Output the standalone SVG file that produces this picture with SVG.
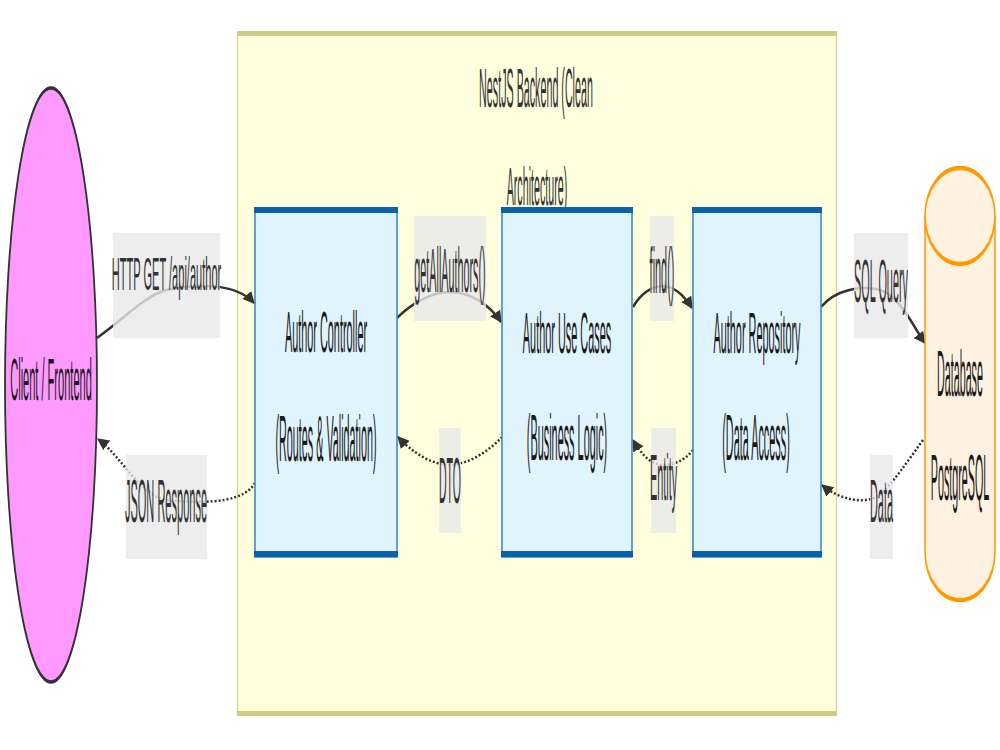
<svg xmlns="http://www.w3.org/2000/svg" width="1000" height="750" viewBox="0 0 1000 750">
<style>
.t{font-family:"Liberation Sans",Arial,sans-serif;font-size:16px;fill:#333;text-anchor:middle}
.n{fill:#1a1a1a}
.lbl{fill:#e8e8e8;fill-opacity:0.8}
.solid{fill:none;stroke:#333;stroke-width:2.5}
.dot{fill:none;stroke:#333;stroke-width:2.5;stroke-dasharray:2 2}
.box{fill:#e0f4fe;stroke:#3a8dcb;stroke-width:1.6}
.bar{fill:#0b62ab}
</style>
<defs>
<marker id="arr" viewBox="0 0 10 10" refX="9" refY="5" markerWidth="12" markerHeight="12" markerUnits="userSpaceOnUse" orient="auto">
<path d="M0,0 L10,5 L0,10 z" fill="#333"/>
</marker>
</defs>
<rect width="1000" height="750" fill="#ffffff"/>

<g id="backend">
<rect x="237.5" y="33" width="599" height="682" fill="#ffffde" stroke="#d2d28e" stroke-width="1.2"/>
<rect x="237" y="31" width="600" height="5" fill="#cdcd86"/>
<rect x="237" y="711" width="600" height="5" fill="#cdcd86"/>
<text class="t" transform="translate(536,107) scale(0.67,3.49)">NestJS Backend (Clean</text>
<text class="t" transform="translate(537,205) scale(0.67,3.32)">Architecture)</text>
</g>

<g id="client">
<g transform="scale(1,2)">
<ellipse cx="51" cy="192.5" rx="46" ry="148.5" fill="#ff99ff" stroke="#333" stroke-width="1.8"/>
</g>
<text class="t n" transform="translate(51,400) scale(0.69,3.75)">Client / Frontend</text>
</g>

<g id="connectors">
<path class="solid" marker-end="url(#arr)" d="M97,338 C125,318 145,296 166,290 C195,284 235,282 254,303"/>
<path class="dot" marker-end="url(#arr)" d="M255,483 C245,500 215,505 166,500 C140,495 120,455 98,439"/>
<path class="solid" marker-end="url(#arr)" d="M397,318 C410,305 430,292 450,292 C470,292 490,305 501,322"/>
<path class="dot" marker-end="url(#arr)" d="M502,437 C490,450 470,464 450,465 C430,465 410,450 398,437"/>
<path class="solid" marker-end="url(#arr)" d="M633,307 C640,295 650,287 662,286 C675,286 685,297 692,308"/>
<path class="dot" marker-end="url(#arr)" d="M693,450 C685,460 675,465 663,465 C650,465 640,452 633,440"/>
<path class="solid" marker-end="url(#arr)" d="M821,307 C835,290 860,285 880,290 C900,295 915,330 925,343"/>
<path class="dot" marker-end="url(#arr)" d="M923,440 C905,465 895,480 880,495 C865,505 840,500 822,485"/>
</g>

<g id="controller">
<rect class="box" x="255" y="208" width="142" height="349"/>
<rect class="bar" x="254" y="207" width="144" height="6"/>
<rect class="bar" x="254" y="551" width="144" height="6"/>
<text class="t n" transform="translate(326,352) scale(0.68,3.6)">Author Controller</text>
<text class="t n" transform="translate(326,461) scale(0.675,4.0)">(Routes &amp; Validation)</text>
</g>

<g id="usecases">
<rect class="box" x="502" y="208" width="130" height="349"/>
<rect class="bar" x="501" y="207" width="132" height="6"/>
<rect class="bar" x="501" y="551" width="132" height="6"/>
<text class="t n" transform="translate(567,353) scale(0.68,3.6)">Author Use Cases</text>
<text class="t n" transform="translate(567,460) scale(0.68,4.0)">(Business Logic)</text>
</g>

<g id="repository">
<rect class="box" x="693" y="208" width="128" height="349"/>
<rect class="bar" x="692" y="207" width="130" height="6"/>
<rect class="bar" x="692" y="551" width="130" height="6"/>
<text class="t n" transform="translate(757,353) scale(0.68,3.6)">Author Repository</text>
<text class="t n" transform="translate(756,460) scale(0.68,4.0)">(Data Access)</text>
</g>

<g id="database">
<g transform="scale(1,3)">
<path d="M925,72 L925,184 A35,16 0 0,0 995,184 L995,72" fill="#fff1df" stroke="#ff9900" stroke-width="1.5"/>
<ellipse cx="960" cy="72" rx="35" ry="16" fill="#fff1df" stroke="#ff9900" stroke-width="1.5"/>
</g>
<text class="t n" transform="translate(960,396) scale(0.67,4.1)">Database</text>
<text class="t n" transform="translate(960,500) scale(0.67,4.1)">PostgreSQL</text>
</g>

<g id="labels">
<rect class="lbl" x="113" y="233" width="107" height="105"/>
<text class="t" transform="translate(166.5,290) scale(0.69,2.9)">HTTP GET /api/author</text>
<rect class="lbl" x="126" y="455" width="81" height="104"/>
<text class="t" transform="translate(166,522) scale(0.69,3.85)">JSON Response</text>
<rect class="lbl" x="414" y="216" width="72" height="105"/>
<text class="t" transform="translate(450,292) scale(0.675,3.9)">getAllAuthors()</text>
<rect class="lbl" x="439" y="428" width="22" height="105"/>
<text class="t" transform="translate(450,503) scale(0.66,4.0)">DTO</text>
<rect class="lbl" x="650" y="216" width="24" height="105"/>
<text class="t" transform="translate(662,293) scale(0.68,4.0)">find()</text>
<rect class="lbl" x="651" y="428" width="25" height="105"/>
<text class="t" transform="translate(663.5,500) scale(0.68,4.1)">Entity</text>
<rect class="lbl" x="854" y="233" width="54" height="105"/>
<text class="t" transform="translate(881,302) scale(0.68,3.8)">SQL Query</text>
<rect class="lbl" x="870" y="455" width="23" height="104"/>
<text class="t" transform="translate(881.5,522) scale(0.68,3.85)">Data</text>
</g>
</svg>
